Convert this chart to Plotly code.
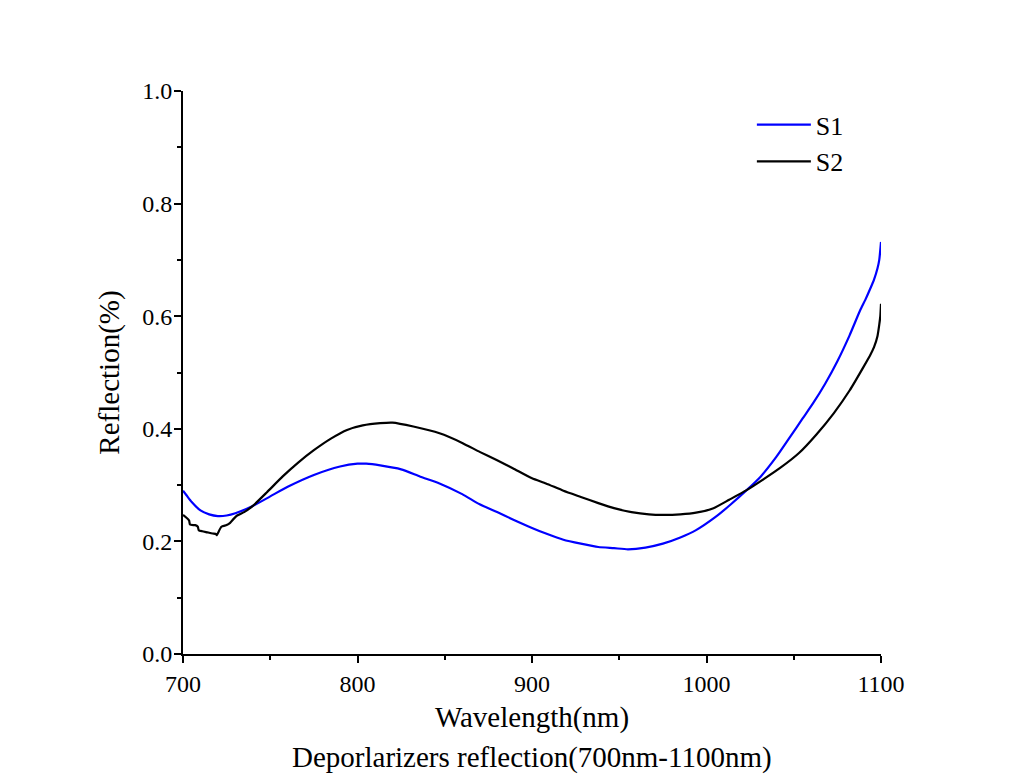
import plotly.graph_objects as go

FONT = "Liberation Serif"

# S1 (blue) wavelength / reflection
s1_wl = [700, 702, 705, 710, 715, 720, 725, 730, 740, 750, 760, 775, 790, 800, 805, 813,
         825, 836, 847, 860, 870, 880, 889, 900, 908, 918, 928, 938, 947, 955, 965, 975,
         985, 994, 1005, 1014, 1023, 1031, 1040, 1048, 1055, 1061, 1068, 1075, 1082, 1088,
         1091, 1094, 1096, 1098, 1099, 1100]
s1_r = [0.290, 0.282, 0.270, 0.255, 0.248, 0.245, 0.246, 0.250, 0.263, 0.280, 0.297, 0.318,
        0.333, 0.338, 0.338, 0.335, 0.328, 0.315, 0.303, 0.284, 0.266, 0.252, 0.239, 0.224,
        0.214, 0.203, 0.196, 0.190, 0.188, 0.186, 0.189, 0.196, 0.207, 0.220, 0.243, 0.266,
        0.291, 0.315, 0.350, 0.386, 0.418, 0.445, 0.480, 0.520, 0.566, 0.610, 0.629, 0.650,
        0.665, 0.685, 0.700, 0.732]

# S2 (black) wavelength / reflection
s2_wl = [700, 702, 703.5, 704, 706, 707, 708.5, 709, 711, 714, 717, 719, 719.3, 722, 725,
         727, 729, 731, 735, 740, 748, 757, 766, 775, 785, 794, 803, 813, 820, 832, 847,
         860, 870, 880, 889, 900, 908, 918, 928, 938, 947, 957, 967, 975, 985, 994, 1004,
         1013, 1023, 1033, 1042, 1053, 1063, 1073, 1082, 1090, 1094, 1096, 1098, 1099, 1099.6, 1100]
s2_r = [0.247, 0.242, 0.237, 0.230, 0.229, 0.229, 0.226, 0.220, 0.218, 0.216, 0.214, 0.213,
        0.211, 0.226, 0.229, 0.233, 0.240, 0.246, 0.252, 0.263, 0.287, 0.315, 0.340, 0.362,
        0.383, 0.398, 0.406, 0.410, 0.411, 0.404, 0.392, 0.375, 0.359, 0.344, 0.330, 0.312,
        0.303, 0.290, 0.279, 0.268, 0.259, 0.252, 0.248, 0.247, 0.248, 0.251, 0.259, 0.274,
        0.291, 0.311, 0.330, 0.357, 0.390, 0.428, 0.468, 0.510, 0.532, 0.545, 0.565, 0.585,
        0.600, 0.622]

x_ticks = [700, 800, 900, 1000, 1100]
y_ticks = [0.0, 0.2, 0.4, 0.6, 0.8, 1.0]
y_tick_labels = ["0.0", "0.2", "0.4", "0.6", "0.8", "1.0"]

x_title = "Wavelength(nm)"
caption = "Deporlarizers reflection(700nm-1100nm)"
y_title = "Reflection(%)"

fig = go.Figure()
fig.add_trace(go.Scatter(x=s1_wl, y=s1_r, mode="lines", name="S1",
                         line=dict(color="#0000FF", width=2.2, shape="spline", smoothing=0.6)))
fig.add_trace(go.Scatter(x=s2_wl, y=s2_r, mode="lines", name="S2",
                         line=dict(color="#000000", width=2.2, shape="spline", smoothing=0.5)))

fig.add_annotation(text=caption, xref="paper", yref="paper", x=0.5, y=-0.183,
                   xanchor="center", yanchor="middle", showarrow=False,
                   font=dict(family=FONT, size=29, color="black"))

fig.update_layout(
    width=1024, height=784,
    margin=dict(l=183, r=143, t=91, b=130),
    paper_bgcolor="white", plot_bgcolor="white",
    font=dict(family=FONT, color="black", size=24),
    showlegend=True,
    legend=dict(x=0.815, y=0.982, xanchor="left", yanchor="top", itemwidth=54,
                font=dict(family=FONT, size=26, color="black"),
                bgcolor="rgba(0,0,0,0)", borderwidth=0, tracegroupgap=0),
    xaxis=dict(
        range=[700, 1100], tickmode="array", tickvals=x_ticks,
        ticks="outside", ticklen=7, tickwidth=2, tickcolor="black",
        showline=True, linecolor="black", linewidth=2, mirror=False,
        showgrid=False, zeroline=False,
        tickfont=dict(family=FONT, size=24, color="black"),
        minor=dict(dtick=50, tick0=700, ticks="outside", ticklen=4, tickwidth=2, tickcolor="black", showgrid=False),
        title=dict(text=x_title, font=dict(family=FONT, size=29, color="black"), standoff=11),
    ),
    yaxis=dict(
        range=[0, 1.0], tickmode="array", tickvals=y_ticks, ticktext=y_tick_labels,
        ticks="outside", ticklen=7, tickwidth=2, tickcolor="black",
        showline=True, linecolor="black", linewidth=2, mirror=False,
        showgrid=False, zeroline=False, ticklabelstandoff=-3,
        tickfont=dict(family=FONT, size=24, color="black"),
        minor=dict(dtick=0.1, tick0=0, ticks="outside", ticklen=4, tickwidth=2, tickcolor="black", showgrid=False),
        title=dict(text=y_title, font=dict(family=FONT, size=29, color="black"), standoff=14),
    ),
)

fig.write_html("out.html")
